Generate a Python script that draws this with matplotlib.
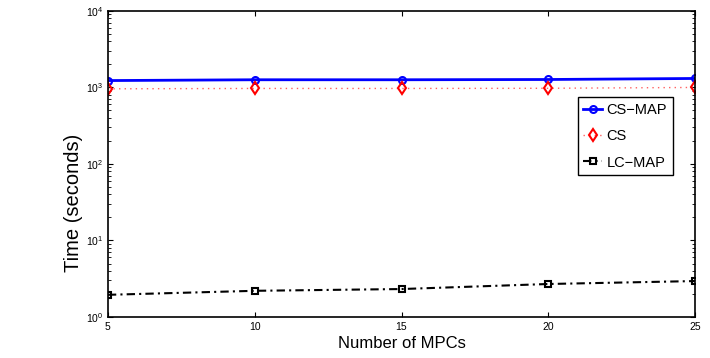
import matplotlib
matplotlib.use('Agg')
import matplotlib.pyplot as plt

# data
mpcs = [5, 10, 15, 20, 25]
cs_map = [1230, 1260, 1260, 1270, 1310]
cs = [960, 970, 970, 975, 1000]
lc_map = [1.95, 2.2, 2.32, 2.7, 2.95]

plt.rcParams['font.family'] = ['Liberation Sans', 'DejaVu Sans']

fig = plt.figure(figsize=(7.1, 3.58), dpi=100)
ax = fig.add_axes([0.152, 0.1145, 0.827, 0.855])

ax.semilogy(mpcs, cs_map, color='blue', lw=2, marker='o', ms=5,
            mfc='none', mew=1.5, label='CS\u2212MAP')
ax.semilogy(mpcs, cs, color='#ff6060', lw=1, ls=(0, (1, 3)), marker='d', ms=6,
            mfc='none', mec='red', mew=1.5, label='CS')
ax.semilogy(mpcs, lc_map, color='black', lw=1.5, ls=(0, (4, 2, 1, 2)), marker='s', ms=4,
            mfc='none', mew=1.5, label='LC\u2212MAP')

ax.set_xlim(5, 25)
ax.set_ylim(1, 1e4)
ax.set_xticks(mpcs)
ax.tick_params(which='both', direction='in', top=True, right=True, labelsize=7.5)
for s in ax.spines.values():
    s.set_linewidth(1.2)

ax.set_xlabel('Number of MPCs', fontsize=12, labelpad=3)
ax.set_ylabel('Time (seconds)', fontsize=14.5)
ax.yaxis.set_label_coords(-0.042, 0.373)

leg = ax.legend(loc='upper right', bbox_to_anchor=(0.9625, 0.719), fontsize=10.5,
                fancybox=False, edgecolor='black', framealpha=1,
                handlelength=1.3, handletextpad=0.3, borderpad=0.4,
                labelspacing=0.85, borderaxespad=0)
leg.get_frame().set_linewidth(1)

fig.savefig('out.png', dpi=100)
